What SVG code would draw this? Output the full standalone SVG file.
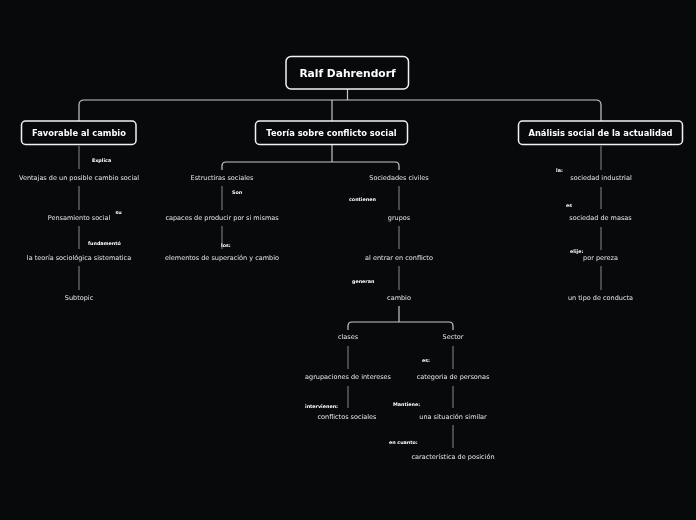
<svg xmlns="http://www.w3.org/2000/svg" width="696" height="520" viewBox="0 0 696 520">
<defs>
<filter id="flat" filterUnits="userSpaceOnUse" x="0" y="0" width="696" height="520"><feOffset dx="0" dy="0"/></filter>
</defs>
<style>
.bg{fill:#08090b}
.box{fill:#08090b;stroke:#f2f2f2;stroke-width:1.5}
.t{font-family:"DejaVu Sans",Verdana,sans-serif;fill:#ffffff;font-weight:bold;text-anchor:middle;dominant-baseline:central}
.root{font-size:10.7px}
.main{font-size:8.3px}
.sub{font-family:"DejaVu Sans",Verdana,sans-serif;fill:#e6e6e6;font-size:6.5px;text-anchor:middle;dominant-baseline:central}
.lbl{font-family:"DejaVu Sans",Verdana,sans-serif;fill:#ffffff;font-size:4.8px;font-weight:bold;dominant-baseline:central}
.c{fill:none;stroke:#c8c8c8;stroke-width:1.2}
.s{fill:none;stroke:#8a8a8a;stroke-width:1}
</style>
<rect class="bg" x="0" y="0" width="696" height="520"/>
<g id="connectors">
<path class="c" d="M347.5,89 V100"/>
<path class="c" d="M79,121 V105 Q79,100 84,100 H596 Q601,100 601,105 V121"/>
<path class="c" d="M332,100 V121"/>
<path class="c" d="M332,145 V162"/>
<path class="c" d="M222,170 V166 Q222,162 226,162 H395 Q399,162 399,166 V170"/>
<path class="s" d="M79,146 V169 M79,186 V210 M79,226 V249 M79,266 V290"/>
<path class="s" d="M222,186 V210 M222,226 V249"/>
<path class="s" d="M399,186 V210 M399,226 V249 M399,266 V290"/>
<path class="c" d="M399,306 V322"/>
<path class="c" d="M348,330 V326 Q348,322 352,322 H449 Q453,322 453,326 V330"/>
<path class="s" d="M348,346 V369 M348,386 V408"/>
<path class="s" d="M453,346 V369 M453,386 V408 M453,425 V448"/>
<path class="s" d="M601,146 V170 M601,187 V209 M601,227 V250 M601,266 V290"/>
</g>
<g filter="url(#flat)">
<g id="root"><rect class="box" x="286" y="56.5" width="122.5" height="32.5" rx="5"/><text class="t root" x="347.5" y="73">Ralf Dahrendorf</text></g>
<g id="favorable"><rect class="box" x="21.5" y="121" width="114.5" height="23.5" rx="4"/><text class="t main" x="79" y="133">Favorable al cambio</text></g>
<g id="teoria"><rect class="box" x="255.5" y="121" width="152" height="23.5" rx="4"/><text class="t main" x="331.5" y="133">Teoría sobre conflicto social</text></g>
<g id="analisis"><rect class="box" x="518.5" y="121" width="164" height="23.5" rx="4"/><text class="t main" x="600.5" y="133">Análisis social de la actualidad</text></g>

<g id="ventajas"><text class="sub" x="79" y="177.5">Ventajas de un posible cambio social</text><text class="lbl" x="92" y="160">Explica</text></g>
<g id="pensamiento"><text class="sub" x="79" y="217.5">Pensamiento social</text><text class="lbl" x="115.5" y="212">su</text></g>
<g id="teoria-soc"><text class="sub" x="79" y="257.5">la teoría sociológica sistematica</text><text class="lbl" x="88" y="243">fundamentó</text></g>
<g id="subtopic"><text class="sub" x="79" y="297.5">Subtopic</text></g>

<g id="estructiras"><text class="sub" x="222" y="177.5">Estructiras sociales</text></g>
<g id="capaces"><text class="sub" x="222" y="217.5">capaces de producir por si mismas</text><text class="lbl" x="232" y="192">Son</text></g>
<g id="elementos"><text class="sub" x="222" y="257.5">elementos de superación y cambio</text><text class="lbl" x="221" y="245">los:</text></g>

<g id="sociedades"><text class="sub" x="399" y="177.5">Sociedades civiles</text></g>
<g id="grupos"><text class="sub" x="399" y="217.5">grupos</text><text class="lbl" x="349" y="199">contienen</text></g>
<g id="entrar"><text class="sub" x="399" y="257.5">al entrar en conflicto</text></g>
<g id="cambio"><text class="sub" x="399" y="297.5">cambio</text><text class="lbl" x="352" y="281">generan</text></g>

<g id="clases"><text class="sub" x="348" y="336.5">clases</text></g>
<g id="agrupaciones"><text class="sub" x="348" y="376.5">agrupaciones de intereses</text></g>
<g id="conflictos"><text class="sub" x="347" y="416.5">conflictos sociales</text><text class="lbl" x="305" y="406">intervienen:</text></g>

<g id="sector"><text class="sub" x="453" y="336.5">Sector</text></g>
<g id="categoria"><text class="sub" x="453" y="376.5">categoria de personas</text><text class="lbl" x="422" y="360">es:</text></g>
<g id="situacion"><text class="sub" x="453" y="416.5">una situación similar</text><text class="lbl" x="393" y="404">Mantiene:</text></g>
<g id="caracteristica"><text class="sub" x="453" y="456.5">característica de posición</text><text class="lbl" x="389" y="442">en cuanto:</text></g>

<g id="industrial"><text class="sub" x="601" y="178">sociedad industrial</text><text class="lbl" x="556" y="170">la:</text></g>
<g id="masas"><text class="sub" x="600.5" y="217.5">sociedad de masas</text><text class="lbl" x="566" y="205">es</text></g>
<g id="pereza"><text class="sub" x="600.5" y="257.5">por pereza</text><text class="lbl" x="570" y="251">elije:</text></g>
<g id="conducta"><text class="sub" x="600.5" y="297.5">un tipo de conducta</text></g>
</g>
</svg>
